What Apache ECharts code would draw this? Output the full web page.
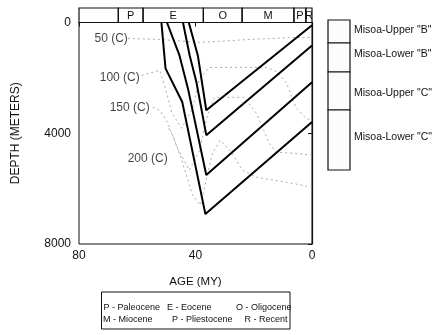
<!DOCTYPE html>
<html>
<head>
<meta charset="utf-8">
<script src="https://cdn.jsdelivr.net/npm/echarts@6/dist/echarts.min.js"></script>
<style>
html,body{margin:0;padding:0;background:#fff;}
#chart{width:440px;height:335px;}
</style>
</head>
<body>
<div id="chart"></div>
<script>
// ---- axis ticks ----
const ageTicks = [80, 40, 0];
const depthTicks = [0, 4000, 8000];

// ---- geologic time scale (age, MY) ----
const periodLabels = ['', 'P', 'E', 'O', 'M', 'P', 'R'];
const periodStart  = [80, 66.5, 58, 37.3, 24, 6.2, 2.1];
const periodEnd    = [66.5, 58, 37.3, 24, 6.2, 2.1, 0];

// ---- burial curves (age MY, depth m) ----
const upperB_age   = [42.3, 39.2, 36.3, 0];
const upperB_depth = [0, 1190, 3170, 100];
const lowerB_age   = [44.3, 42.0, 39.7, 36.3, 0];
const lowerB_depth = [0, 1190, 2150, 4070, 830];
const upperC_age   = [49.8, 45.5, 42.6, 36.3, 0];
const upperC_depth = [0, 1190, 2380, 5510, 2160];
const lowerC_age   = [51.7, 50.3, 44.55, 36.6, 0];
const lowerC_depth = [0, 1658, 2872, 6920, 3590];

// ---- isotherms (age MY, depth m) ----
const iso50_age    = [63.2, 52.3, 38.6, 21.5, 6.8, 0];
const iso50_depth  = [577, 613, 721, 613, 541, 541];
const iso100_age   = [58.5, 52.3, 50.3, 48.2, 44.8, 41.0, 38.6, 35.2, 15.7, 12.3, 8.9, 5.5, 2.1, 0];
const iso100_depth = [1910, 1730, 2379, 3244, 3820, 3100, 2018, 1622, 1622, 1766, 2162, 3063, 3460, 3532];
const iso150_age   = [54.7, 52.3, 49.6, 47.9, 46.2, 42.1, 38.6, 35.9, 33.5, 23.2, 19.1, 14.7, 12.3, 6.2, 0];
const iso150_depth = [3063, 3172, 3604, 4073, 4541, 5334, 4613, 3352, 2703, 2703, 3280, 4361, 4685, 4721, 4793];
const iso200_age   = [49.2, 47.5, 44.4, 41.0, 38.3, 35.9, 34.2, 31.5, 27.4, 23.9, 19.1, 8.9, 0];
const iso200_depth = [3820, 4145, 5082, 6235, 6595, 5514, 4721, 4253, 4721, 5334, 5586, 5766, 5947];

// ---- isotherm labels ----
const isoNames      = ['50 (C)', '100 (C)', '150 (C)', '200 (C)'];
const isoLabelAge   = [62.9, 58.8, 55.4, 49.2];
const isoLabelDepth = [577, 1982, 3063, 4901];

// ---- formation legend ----
const formations = ['Misoa-Upper "B"', 'Misoa-Lower "B"', 'Misoa-Upper "C"', 'Misoa-Lower "C"'];

// ---- period key ----
const keyRow1 = ['P - Paleocene', 'E - Eocene', 'O - Oligocene'];
const keyRow2 = ['M - Miocene', 'P - Pliestocene', 'R - Recent'];

const FONT = 'Liberation Sans, Arial, sans-serif';
const pair = (a, d) => a.map((v, i) => [v, d[i]]);

const chart = echarts.init(document.getElementById('chart'), null, {renderer: 'canvas'});

const GL = 79, GR = 128;

const burial = [
  [formations[0], upperB_age, upperB_depth],
  [formations[1], lowerB_age, lowerB_depth],
  [formations[2], upperC_age, upperC_depth],
  [formations[3], lowerC_age, lowerC_depth]
].map(([n, a, d]) => ({
  name: n, type: 'line', xAxisIndex: 0, yAxisIndex: 0,
  data: pair(a, d), symbol: 'none', z: 5, silent: true,
  lineStyle: {color: '#000', width: 2}
}));

const isos = [
  [iso50_age, iso50_depth],
  [iso100_age, iso100_depth],
  [iso150_age, iso150_depth],
  [iso200_age, iso200_depth]
].map(([a, d], i) => ({
  name: isoNames[i], type: 'line', xAxisIndex: 0, yAxisIndex: 0,
  data: pair(a, d), symbol: 'none', z: 3, silent: true,
  lineStyle: {color: '#ababab', width: 1, type: [2, 3]}
}));

const keyTexts = [];
const col1 = [103.5, 167, 236];
const col2 = [103, 172, 244.5];
keyRow1.forEach((t, i) => keyTexts.push({type: 'text', x: col1[i], y: 308, style: {text: t, font: '9px ' + FONT, fill: '#111', textVerticalAlign: 'middle'}}));
keyRow2.forEach((t, i) => keyTexts.push({type: 'text', x: col2[i], y: 319.5, style: {text: t, font: '9px ' + FONT, fill: '#111', textVerticalAlign: 'middle'}}));

const colTop = [20, 43, 72, 110];
const colBot = [43, 72, 110, 170];
const colLabelY = [30, 54, 93, 137];
const colGraphics = [];
formations.forEach((f, i) => {
  colGraphics.push({type: 'rect', shape: {x: 328, y: colTop[i], width: 22, height: colBot[i] - colTop[i]},
    style: {fill: '#fcfcfc', stroke: '#111', lineWidth: 1.2}});
  colGraphics.push({type: 'text', x: 354, y: colLabelY[i],
    style: {text: f, font: '10.5px ' + FONT, fill: '#111', textVerticalAlign: 'middle'}});
});

chart.setOption({
  animation: false,
  backgroundColor: '#fff',
  textStyle: {fontFamily: FONT},
  grid: [
    {left: GL, right: GR, top: 22.5, bottom: 91, show: true, borderColor: '#111', borderWidth: 1, backgroundColor: 'transparent'},
    {left: GL, right: GR, top: 8, height: 14.5, show: false}
  ],
  xAxis: [
    {
      type: 'value', gridIndex: 0, min: 0, max: 80, interval: 40, inverse: true,
      name: 'AGE (MY)', nameLocation: 'middle', nameGap: 32,
      nameTextStyle: {fontSize: 11.5, color: '#111', fontFamily: FONT},
      axisLine: {show: true, lineStyle: {color: '#111', width: 1.2}},
      axisTick: {show: true, length: 4, lineStyle: {color: '#111'}},
      axisLabel: {fontSize: 12, color: '#111', margin: 6, fontFamily: FONT,
        formatter: v => ageTicks.includes(v) ? String(v) : ''},
      splitLine: {show: false}
    },
    {type: 'value', gridIndex: 1, min: 0, max: 80, inverse: true, show: false}
  ],
  yAxis: [
    {
      type: 'value', gridIndex: 0, min: 0, max: 8000, interval: 4000, inverse: true,
      name: 'DEPTH (METERS)', nameLocation: 'middle', nameGap: 57,
      nameTextStyle: {fontSize: 12, color: '#111', fontFamily: FONT},
      axisLine: {show: true, lineStyle: {color: '#111', width: 1.2}},
      axisTick: {show: true, length: 4, lineStyle: {color: '#111'}},
      axisLabel: {fontSize: 12, color: '#111', margin: 8, fontFamily: FONT,
        formatter: v => depthTicks.includes(v) ? String(v) : ''},
      splitLine: {show: false}
    },
    {type: 'value', gridIndex: 1, min: 0, max: 1, show: false}
  ],
  series: [
    ...isos,
    ...burial,
    {
      type: 'scatter', xAxisIndex: 0, yAxisIndex: 0, symbolSize: 0, silent: true, z: 6,
      data: pair(isoLabelAge, isoLabelDepth),
      label: {show: true, position: 'left', distance: 1, fontSize: 12, color: '#111', fontFamily: FONT,
        formatter: p => isoNames[p.dataIndex]}
    },
    {
      type: 'custom', xAxisIndex: 1, yAxisIndex: 1, silent: true, z: 6,
      data: periodStart.map((s, i) => [s, periodEnd[i]]),
      encode: {x: [0, 1]},
      renderItem: (params, api) => {
        const a = api.coord([api.value(0), 0]);
        const b = api.coord([api.value(1), 1]);
        const x0 = Math.min(a[0], b[0]), x1 = Math.max(a[0], b[0]);
        const y0 = Math.min(a[1], b[1]), y1 = Math.max(a[1], b[1]);
        return {
          type: 'group',
          children: [
            {type: 'rect', shape: {x: x0, y: y0, width: x1 - x0, height: y1 - y0},
              style: {fill: 'none', stroke: '#111', lineWidth: 1.2}},
            {type: 'text', x: (x0 + x1) / 2, y: (y0 + y1) / 2 + 0.5,
              style: {text: periodLabels[params.dataIndex], font: '11px ' + FONT, fill: '#111',
                textAlign: 'center', textVerticalAlign: 'middle'}}
          ]
        };
      }
    }
  ],
  graphic: [
    ...colGraphics,
    {type: 'rect', shape: {x: 101.5, y: 292, width: 188.5, height: 37},
      style: {fill: 'none', stroke: '#111', lineWidth: 1}},
    ...keyTexts
  ]
});
</script>
</body>
</html>
